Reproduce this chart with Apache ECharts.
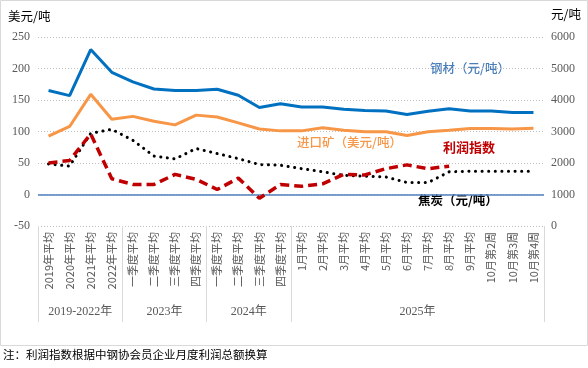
<!DOCTYPE html>
<html><head><meta charset="utf-8">
<script src="https://cdn.jsdelivr.net/npm/echarts@6/dist/echarts.min.js"></script>
<style>html,body{margin:0;padding:0;background:#fff}#c{width:588px;height:368px}</style>
</head><body><div id="c"></div>
<script>
const categories = ['2019年平均','2020年平均','2021年平均','2022年平均',
  '一季度平均','二季度平均','三季度平均','四季度平均',
  '一季度平均','二季度平均','三季度平均','四季度平均',
  '1月平均','2月平均','3月平均','4月平均','5月平均','6月平均','7月平均','8月平均','9月平均',
  '10月第2周','10月第3周','10月第4周'];
const groupNames = ['2019-2022年','2023年','2024年','2025年'];
const groupSizes = [4,4,4,12];
const steel = [4300,4140,5600,4880,4575,4350,4300,4300,4340,4150,3760,3880,3780,3780,3710,3670,3650,3540,3640,3720,3650,3650,3600,3600];
const ore = [92.5,108,159,119.5,124,116.3,110.5,126,123,113.7,104,101,101,106,102,99.5,99.5,93.6,99.5,102,104.7,104.7,104,105];
const coke = [1970,1900,2940,3070,2720,2220,2130,2460,2300,2140,1950,1930,1820,1720,1610,1580,1557,1380,1380,1720,1740,1740,1740,1740];
const profit = [50,54,96,25,16,16,32,24,8,26,-6,16,13,17,32,31,41,47,41,45,null,null,null,null];
const leftTicks = {min:-50,max:250,interval:50};
const rightTicks = {min:0,max:6000,interval:1000};

const bounds = [0]; const centers = [];
groupSizes.forEach((s,i)=>{ centers.push(bounds[i]+s/2); bounds.push(bounds[i]+s); });

const chart = echarts.init(document.getElementById('c'), null, {renderer:'canvas'});
const serif = '"Liberation Serif","Noto Sans CJK SC",serif';
const cjk = '"Noto Sans CJK SC",sans-serif';
chart.setOption({
  animation:false,
  backgroundColor:'#fff',
  grid:{left:38,right:44,top:37,bottom:142,containLabel:false},
  xAxis:[{
    type:'category',data:categories,boundaryGap:true,
    axisLine:{show:false},axisTick:{show:false},
    axisLabel:{rotate:90,interval:0,margin:6,fontSize:11,color:'#595959',fontFamily:cjk}
  },{
    type:'value',min:0,max:bounds[bounds.length-1],position:'bottom',
    axisLine:{show:false},splitLine:{show:false},
    axisTick:{show:true,customValues:bounds,length:96,lineStyle:{color:'#D9D9D9',width:1}},
    axisLabel:{customValues:centers,margin:80,fontSize:12,color:'#595959',fontFamily:serif,
      formatter:(v)=>{const i=centers.indexOf(v);return i>=0?groupNames[i]:'';}}
  }],
  yAxis:[{
    type:'value',min:leftTicks.min,max:leftTicks.max,interval:leftTicks.interval,
    axisLine:{show:false},axisTick:{show:false},
    axisLabel:{margin:8,fontSize:12,color:'#595959',fontFamily:serif,formatter:(v)=>String(v)},
    splitLine:{show:true,lineStyle:{color:'#BFBFBF',type:[1,2],width:1}}
  },{
    type:'value',min:rightTicks.min,max:rightTicks.max,interval:rightTicks.interval,position:'right',
    axisLine:{show:false},axisTick:{show:false},
    axisLabel:{margin:7,fontSize:12,color:'#595959',fontFamily:serif,formatter:(v)=>String(v)},
    splitLine:{show:false}
  }],
  series:[
    {name:'钢材',type:'line',yAxisIndex:1,data:steel,symbol:'none',lineStyle:{color:'#0070C0',width:3},z:3},
    {name:'进口矿',type:'line',yAxisIndex:0,data:ore,symbol:'none',lineStyle:{color:'#F79646',width:3},z:3,
      markLine:{silent:true,symbol:'none',label:{show:false},lineStyle:{color:'#4F81BD',width:1.5,type:'solid'},data:[{yAxis:0}]}},
    {name:'焦炭',type:'line',yAxisIndex:1,data:coke,symbol:'none',lineStyle:{color:'#000',width:3,type:[0.1,6.5],cap:'round'},z:4},
    {name:'利润指数',type:'line',yAxisIndex:0,data:profit,symbol:'none',connectNulls:false,lineStyle:{color:'#C00000',width:3.5,type:[9,5]},z:5}
  ],
  graphic:[
    {type:'rect',shape:{x:0.5,y:0.5,width:587,height:345},style:{fill:'none',stroke:'#D9D9D9',lineWidth:1},silent:true,z:-1},
    {type:'text',left:8,top:10,style:{text:'美元/吨',fontSize:12.5,fill:'#000',fontFamily:cjk}},
    {type:'text',left:551,top:8,style:{text:'元/吨',fontSize:12.5,fill:'#000',fontFamily:cjk}},
    {type:'text',left:430,top:62,style:{text:'钢材（元/吨）',fontSize:12.5,fontWeight:500,fill:'#4A7EBB',fontFamily:cjk}},
    {type:'text',left:297,top:136,style:{text:'进口矿（美元/吨）',fontSize:12.5,fontWeight:500,fill:'#F79646',fontFamily:cjk}},
    {type:'text',left:443,top:141,style:{text:'利润指数',fontSize:13,fontWeight:'bold',fill:'#C00000',fontFamily:cjk}},
    {type:'text',left:418,top:194,style:{text:'焦炭（元/吨）',fontSize:12.5,fontWeight:'bold',fill:'#000',fontFamily:cjk}},
    {type:'text',left:3,top:349,style:{text:'注：利润指数根据中钢协会员企业月度利润总额换算',fontSize:11.5,fill:'#000',fontFamily:cjk}}
  ]
});
</script></body></html>
